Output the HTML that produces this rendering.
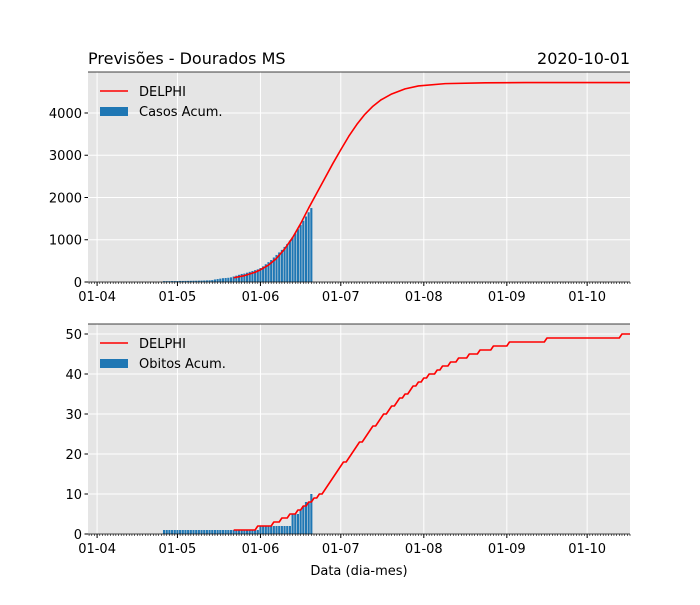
<!DOCTYPE html>
<html><head><meta charset="utf-8"><style>
body{margin:0;background:#fff;font-family:"Liberation Sans","DejaVu Sans",sans-serif}
svg text{font-family:"DejaVu Sans","Liberation Sans",sans-serif}
</style></head><body>
<svg id="c" width="700" height="600"></svg>
<script>
// ---- data (day offsets from 2020-04-01) ----
const barStartDay = 25; // 2020-04-26
const casesBars = [20,20,20,22,22,23,25,25,26,27,28,30,30,32,33,35,38,40,45,60,70,80,90,95,100,110,130,150,170,190,200,220,240,260,280,300,330,370,420,470,520,580,640,700,760,830,900,980,1060,1150,1250,1350,1450,1550,1650,1750];
const deathBars = [1,1,1,1,1,1,1,1,1,1,1,1,1,1,1,1,1,1,1,1,1,1,1,1,1,1,1,1,1,1,1,1,1,1,1,1,2,2,2,2,2,2,2,2,2,2,2,2,5,5,5,6,7,8,8,10];
const casesLineDays = [51,55,59,61,64,67,70,73,76,79,82,85,88,91,94,97,100,103,106,110,115,120,130,145,160,199];
const casesLineVals = [100,150,230,290,400,560,780,1050,1380,1750,2100,2450,2800,3130,3450,3730,3970,4160,4310,4450,4570,4640,4695,4715,4720,4720];
const deathLineStart = 51; // 2020-05-22
const deathLine = [1,1,1,1,1,1,1,1,1,2,2,2,2,2,2,3,3,3,4,4,4,5,5,5,6,6,7,7,8,8,9,9,10,10,11,12,13,14,15,16,17,18,18,19,20,21,22,23,23,24,25,26,27,27,28,29,30,30,31,32,32,33,34,34,35,35,36,37,37,38,38,39,39,40,40,40,41,41,42,42,42,43,43,43,44,44,44,44,45,45,45,45,46,46,46,46,46,47,47,47,47,47,47,48,48,48,48,48,48,48,48,48,48,48,48,48,48,49,49,49,49,49,49,49,49,49,49,49,49,49,49,49,49,49,49,49,49,49,49,49,49,49,49,49,49,50,50,50,50];
const monthTicks = [0,30,61,91,122,153,183];
const monthLabels = ["01-04","01-05","01-06","01-07","01-08","01-09","01-10"];
const topTicks = [0,1000,2000,3000,4000];
const botTicks = [0,10,20,30,40,50];

const NS="http://www.w3.org/2000/svg", svg=document.getElementById('c');
function el(t,a,p){const e=document.createElementNS(NS,t);for(const k in a)e.setAttribute(k,a[k]);(p||svg).appendChild(e);return e;}
const X0=88,X1=630,D0=-3.4,D1=199.0;
const x=d=>X0+(d-D0)/(D1-D0)*(X1-X0);
function panel(top,bot,ymax,ticks,bars,lineD,lineV,barLabel,name,daily){
  const y=v=>bot-v/ymax*(bot-top);
  const g=el('g',{});
  
  
  const bg=el('rect',{x:X0,y:top,width:X1-X0,height:bot-top,fill:'#e5e5e5'},g);
  
  ticks.forEach(t=>{el('line',{x1:X0,x2:X1,y1:y(t),y2:y(t),stroke:'#fff','stroke-width':1},g);
    el('line',{x1:X0-3.5,x2:X0,y1:y(t),y2:y(t),stroke:'#000'},g);
    const tx=el('text',{x:X0-6,y:y(t)+5,'text-anchor':'end','font-size':13},g);tx.textContent=t;
    });
  monthTicks.forEach((d,i)=>{el('line',{x1:x(d),x2:x(d),y1:top,y2:bot,stroke:'#fff'},g);
    el('line',{x1:x(d),x2:x(d),y1:bot,y2:bot+4,stroke:'#000'},g);
    const tx=el('text',{x:x(d),y:bot+19,'text-anchor':'middle','font-size':13},g);tx.textContent=monthLabels[i];
    });
  for(let d=-3;d<=199;d++) el('line',{x1:x(d),x2:x(d),y1:bot,y2:bot+2,stroke:'#000','stroke-width':0.6},g);
  bars.forEach((v,i)=>{const d=barStartDay+i;const b=el('rect',{x:x(d)-1.05,y:y(v),width:2.1,height:bot-y(v),fill:'#1f77b4'},g);
    });
  let pts=[];
  if(daily) lineV.forEach((v,i)=>pts.push(x(deathLineStart+i)+','+y(v)));
  else lineD.forEach((d,i)=>pts.push(x(d)+','+y(lineV[i])));
  const ln=el('polyline',{points:pts.join(' '),fill:'none',stroke:'#ff0000','stroke-width':1.6,'stroke-linejoin':'round'},g);
  
  el('line',{x1:X0,x2:X1,y1:top,y2:top,stroke:'#000','stroke-width':0.8},g);
  el('line',{x1:X0,x2:X1,y1:bot,y2:bot,stroke:'#000','stroke-width':0.8},g);
  const lg=el('g',{},g);
  el('line',{x1:100,x2:128,y1:top+19,y2:top+19,stroke:'#ff0000','stroke-width':1.6},lg);
  let t1=el('text',{x:139,y:top+24,'font-size':13},lg);t1.textContent='DELPHI';
  el('rect',{x:100,y:top+35,width:28,height:9,fill:'#1f77b4'},lg);
  let t2=el('text',{x:139,y:top+44,'font-size':13},lg);t2.textContent=barLabel;
}
panel(72,282,4970,topTicks,casesBars,casesLineDays,casesLineVals,'Casos Acum.','cases-panel',false);
panel(324,534,52.5,botTicks,deathBars,null,deathLine,'Obitos Acum.','deaths-panel',true);
let t=el('text',{x:88,y:64,'font-size':16});t.textContent='Previsões - Dourados MS';

t=el('text',{x:630,y:64,'font-size':16,'text-anchor':'end'});t.textContent='2020-10-01';

t=el('text',{x:359,y:575,'font-size':13,'text-anchor':'middle'});t.textContent='Data (dia-mes)';

</script>
</body></html>
